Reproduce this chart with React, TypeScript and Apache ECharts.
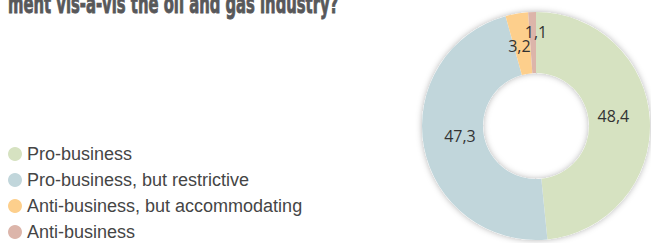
import React, { useEffect, useRef } from "react";
import * as echarts from "echarts";

const categories = [
  "Pro-business",
  "Pro-business, but restrictive",
  "Anti-business, but accommodating",
  "Anti-business",
];
const values = [48.4, 47.3, 3.2, 1.1];
const valueLabels = ["48,4", "47,3", "3,2", "1,1"];
const colors = ["#d6e2c1", "#c1d6db", "#fdcf8c", "#dcb5aa"];
const titleText = "ment vis-a-vis the oil and gas industry?";

export default function App() {
  const ref = useRef<HTMLDivElement>(null);
  useEffect(() => {
    if (!ref.current) return;
    const chart = echarts.init(ref.current, null, { renderer: "svg" });
    chart.setOption({
      animation: false,
      graphic: [
        {
          type: "text",
          x: 8,
          y: -10,
          scaleX: 0.61,
          style: {
            text: titleText,
            font: "bold 27px 'DejaVu Sans Condensed', 'DejaVu Sans', sans-serif",
            fill: "#58585a",
            stroke: "#58585a",
            lineWidth: 0.9,
          },
        },
      ],
      legend: {
        orient: "vertical",
        left: 8,
        top: 145,
        padding: 0,
        height: 110,
        icon: "circle",
        itemWidth: 14,
        itemHeight: 14,
        itemGap: 8,
        selectedMode: false,
        data: categories,
        textStyle: {
          fontFamily: "'Liberation Sans', Arial, sans-serif",
          fontSize: 18,
          color: "#454545",
        },
      },
      series: [
        {
          type: "pie",
          silent: true,
          center: [536, 126],
          radius: [53, 114],
          startAngle: 90,
          label: { show: false },
          labelLine: { show: false },
          z: 1,
          itemStyle: {
            color: "#ffffff",
            shadowBlur: 6,
            shadowColor: "rgba(0,0,0,0.3)",
          },
          data: [{ value: 1, name: "_bg" }],
        },
        {
          type: "pie",
          silent: true,
          z: 2,
          center: [536, 126],
          radius: [53, 114],
          startAngle: 90,
          clockwise: true,
          avoidLabelOverlap: false,
          label: {
            show: true,
            position: "inside",
            color: "#333",
            fontSize: 16,
            fontFamily: "'Open Sans', 'Noto Sans', sans-serif",
            formatter: (p: any) => valueLabels[p.dataIndex],
          },
          labelLine: { show: false },
          labelLayout: (p: any) => {
            if (p.dataIndex === 3) return { dx: 3, dy: -8 };
            if (p.dataIndex === 2) return { dx: -2, dy: 5 };
            if (p.dataIndex === 0) return { dx: -9, dy: -6 };
            if (p.dataIndex === 1) return { dx: 9, dy: -6 };
            return {};
          },
          itemStyle: { borderWidth: 0 },
          data: categories.map((c, i) => ({
            name: c,
            value: values[i],
            itemStyle: { color: colors[i] },
          })),
        },
      ],
    });
    return () => chart.dispose();
  }, []);
  return <div ref={ref} style={{ width: 651, height: 243, position: "absolute", left: 0, top: 0 }} />;
}
